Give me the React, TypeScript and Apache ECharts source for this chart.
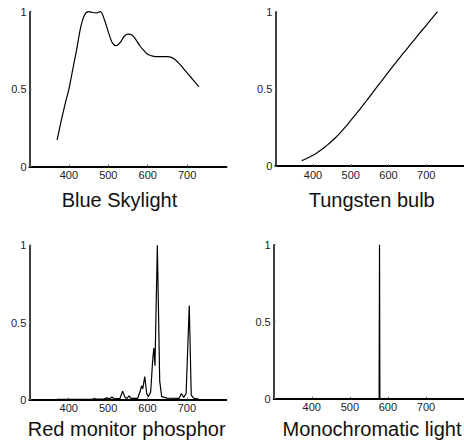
import React, { useEffect, useRef } from "react";
import * as echarts from "echarts";

// Blue skylight spectrum (wavelength nm, relative power)
const skyWavelengths = [370, 380, 390, 400, 410, 420, 430, 440, 450, 460, 470, 480, 490, 500, 510, 520, 530, 540, 550, 560, 570, 580, 590, 600, 610, 620, 630, 640, 650, 660, 670, 680, 690, 700, 710, 720, 730];
const skyValues = [0.17, 0.29, 0.4, 0.5, 0.63, 0.76, 0.9, 0.98, 1.0, 0.995, 0.993, 1.0, 0.95, 0.87, 0.8, 0.78, 0.8, 0.84, 0.855, 0.85, 0.82, 0.78, 0.75, 0.725, 0.715, 0.71, 0.71, 0.71, 0.71, 0.705, 0.69, 0.665, 0.635, 0.605, 0.575, 0.545, 0.515];

// Tungsten bulb
const tungstenWavelengths = [370, 380, 390, 400, 410, 420, 430, 440, 450, 460, 470, 480, 490, 500, 510, 520, 530, 540, 550, 560, 570, 580, 590, 600, 610, 620, 630, 640, 650, 660, 670, 680, 690, 700, 710, 720, 730];
const tungstenValues = [0.035, 0.045, 0.057, 0.07, 0.085, 0.102, 0.12, 0.14, 0.162, 0.185, 0.21, 0.237, 0.265, 0.295, 0.325, 0.355, 0.386, 0.418, 0.45, 0.482, 0.514, 0.546, 0.578, 0.61, 0.641, 0.672, 0.703, 0.733, 0.763, 0.793, 0.823, 0.853, 0.883, 0.912, 0.942, 0.971, 1.0];

// Red monitor phosphor
const phosphorWavelengths = [370, 460, 465, 470, 490, 497, 503, 510, 516, 530, 537, 543, 548, 553, 558, 575, 582, 585, 588, 593, 598, 602, 608, 613, 616, 619, 625, 631, 636, 650, 680, 686, 692, 698, 706, 711, 718, 730];
const phosphorValues = [0.003, 0.003, 0.008, 0.004, 0.005, 0.012, 0.004, 0.018, 0.005, 0.008, 0.055, 0.015, 0.008, 0.025, 0.008, 0.008, 0.06, 0.09, 0.07, 0.15, 0.04, 0.02, 0.05, 0.25, 0.335, 0.22, 1.0, 0.12, 0.02, 0.01, 0.008, 0.04, 0.015, 0.04, 0.61, 0.03, 0.008, 0.004];

// Monochromatic light
const monoWavelengths = [370, 577, 578, 579, 730];
const monoValues = [0, 0, 1, 0, 0];

const xTickLabels = [400, 500, 600, 700];
const yTickLabels = [0, 0.5, 1];

const panelTitles = ["Blue Skylight", "Tungsten bulb", "Red monitor phosphor", "Monochromatic light"];

const FONT = "'Liberation Sans', Arial, sans-serif";

const grids = [
  { left: 29.5, top: 11.7, width: 197, height: 154.8 },
  { left: 275.3, top: 11.7, width: 197, height: 154.3 },
  { left: 29.3, top: 245.3, width: 197, height: 154.4 },
  { left: 273.7, top: 244.7, width: 197, height: 154 },
];

const titlePos = [
  [119.5, 199.7],
  [371.7, 199.7],
  [126.7, 429],
  [372, 429],
];

function pairs(xs: number[], ys: number[]) {
  return xs.map((x, i) => [x, ys[i]]);
}

export default function App() {
  const ref = useRef<HTMLDivElement>(null);
  useEffect(() => {
    document.body.style.margin = "0";
    const chart = echarts.init(ref.current!, undefined, { renderer: "svg" });
    const seriesData = [
      { data: pairs(skyWavelengths, skyValues), smooth: 0.3 },
      { data: pairs(tungstenWavelengths, tungstenValues), smooth: 0.3 },
      { data: pairs(phosphorWavelengths, phosphorValues), smooth: false },
      { data: pairs(monoWavelengths, monoValues), smooth: false },
    ];
    chart.setOption({
      animation: false,
      backgroundColor: "#ffffff",
      grid: grids.map((g) => ({ ...g, containLabel: false })),
      xAxis: grids.map((_, i) => ({
        type: "value",
        gridIndex: i,
        min: 300,
        max: 800,
        interval: 100,
        splitLine: { show: false },
        axisLine: { show: true, lineStyle: { color: "#000", width: 2 } },
        axisTick: {
          show: true,
          inside: true,
          length: 2,
          lineStyle: { color: "#666", width: 1 },
          customValues: xTickLabels,
        },
        axisLabel: {
          color: "#222",
          fontFamily: FONT,
          fontSize: 11,
          margin: 3,
          customValues: xTickLabels,
        },
      })),
      yAxis: grids.map((_, i) => ({
        type: "value",
        gridIndex: i,
        min: 0,
        max: 1,
        interval: 0.5,
        splitLine: { show: false },
        axisLine: { show: true, lineStyle: { color: "#000", width: 1.5 } },
        axisTick: {
          show: true,
          inside: true,
          length: 2,
          lineStyle: { color: "#666", width: 1 },
          customValues: yTickLabels,
        },
        axisLabel: {
          color: "#222",
          fontFamily: FONT,
          fontSize: 11,
          margin: 3,
          customValues: yTickLabels,
          formatter: (v: number) => String(v),
        },
      })),
      series: seriesData.map((s, i) => ({
        type: "line",
        xAxisIndex: i,
        yAxisIndex: i,
        data: s.data,
        smooth: s.smooth,
        showSymbol: false,
        symbol: "none",
        lineStyle: { color: "#000", width: 1.2 },
        z: 1,
      })),
      graphic: panelTitles.map((t, i) => ({
        type: "text",
        x: titlePos[i][0],
        y: titlePos[i][1],
        style: {
          text: t,
          fill: "#111",
          font: `20px ${FONT}`,
          textAlign: "center",
          textVerticalAlign: "middle",
        },
      })),
    });
    return () => chart.dispose();
  }, []);
  return <div ref={ref} style={{ width: 464, height: 444 }} />;
}
